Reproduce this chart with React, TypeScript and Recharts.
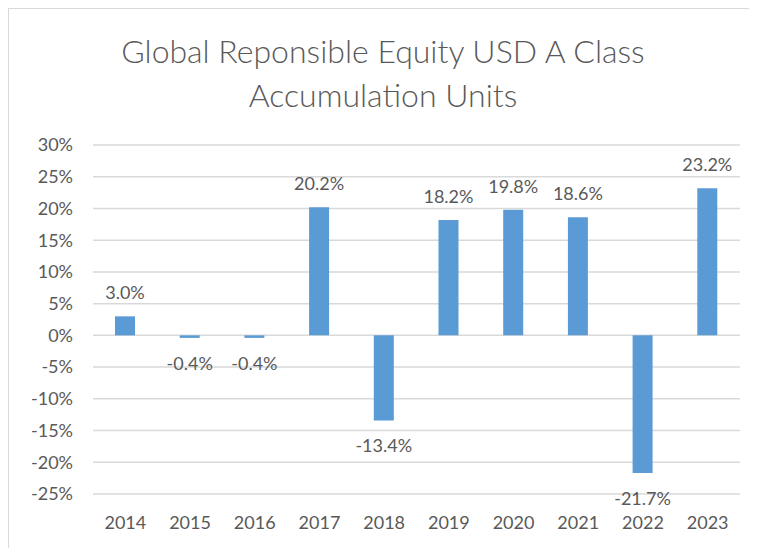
import { BarChart, Bar, XAxis, YAxis, CartesianGrid, LabelList } from "recharts";

const years = ["2014", "2015", "2016", "2017", "2018", "2019", "2020", "2021", "2022", "2023"];
const returns = [3.0, -0.4, -0.4, 20.2, -13.4, 18.2, 19.8, 18.6, -21.7, 23.2];
const yTicks = [-25, -20, -15, -10, -5, 0, 5, 10, 15, 20, 25, 30];

const data = years.map((year, i) => ({ year, value: returns[i] }));

const TEXT = "#595959";
const FONT = "Lato, 'Open Sans', sans-serif";

function ValueLabel(props: any) {
  const { x, y, width, height, value } = props;
  const neg = value < 0;
  const top = Math.min(y, y + height);
  const bottom = Math.max(y, y + height);
  const ly = neg ? bottom + 25 : top - 24;
  return (
    <text
      x={x + width / 2}
      y={ly}
      textAnchor="middle"
      dominantBaseline="central"
      fill={TEXT}
      fontSize={18}
      fontFamily={FONT}
    >
      {value.toFixed(1)}%
    </text>
  );
}

export default function App() {
  return (
    <div
      style={{
        position: "relative",
        width: 748,
        height: 540,
        borderTop: "1px solid #d9d9d9",
        borderLeft: "1px solid #d9d9d9",
        fontFamily: FONT,
      }}
    >
      <div
        style={{
          position: "absolute",
          left: 0,
          top: 20,
          width: 748,
          textAlign: "center",
          fontSize: 32,
          lineHeight: "44px",
          color: TEXT,
          fontWeight: 300,
        }}
      >
        Global Reponsible Equity USD A Class
        <br />
        Accumulation Units
      </div>
      <BarChart
        width={748}
        height={540}
        data={data}
        margin={{ top: 136, right: 17, left: 24, bottom: 25 }}
      >
        <CartesianGrid vertical={false} stroke="#d9d9d9" strokeWidth={1.5} />
        <XAxis
          dataKey="year"
          axisLine={false}
          tickLine={false}
          tick={{ fill: TEXT, fontSize: 18, fontFamily: FONT }}
          height={30}
          tickMargin={16}
        />
        <YAxis
          domain={[-25, 30]}
          ticks={yTicks}
          interval={0}
          axisLine={false}
          tickLine={false}
          width={60}
          tickMargin={14}
          tickFormatter={(v: number) => `${v}%`}
          tick={{ fill: TEXT, fontSize: 18, fontFamily: FONT }}
        />
        <Bar dataKey="value" fill="#5b9bd5" barSize={20} isAnimationActive={false}>
          <LabelList dataKey="value" content={ValueLabel} />
        </Bar>
      </BarChart>
    </div>
  );
}
